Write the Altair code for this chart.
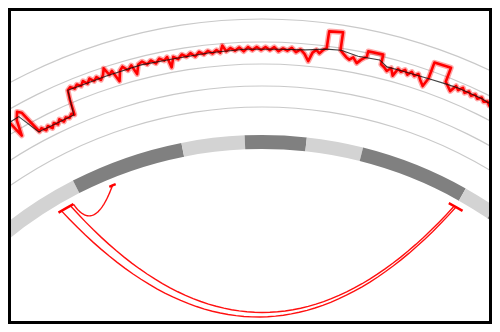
import altair as alt
import pandas as pd

W, H = 484, 316
CX, CY = 254, 542          # circle centre (view pixels)

# ---- ideogram band (degrees, clockwise from 12 o'clock) ----
band_start = [-45.0, -27.1, -11.2, -2.4, 6.2, 14.1, 29.4, 34.2]
band_end = [-27.1, -11.2, -2.4, 6.2, 14.1, 29.4, 34.2, 45.0]
band_shade = ["light", "dark", "light", "dark", "light", "dark", "light", "dark"]
BAND_IN, BAND_OUT = 401, 415

# ---- track grid circles ----
grid_r = [443, 464, 486, 508, 531]

# ---- segmented (black) profile ----
black_theta = [-36, -29.3, -28.1, -23.4, -22.9, -18, -14, -10, -6, -2, 2, 5, 7.3, 9,
               11, 13.5, 14.5, 16, 19.5, 21.5, 23, 26, 28.5, 33]
black_r = [497, 497, 474, 474, 499, 499, 500, 499, 500, 501, 501, 502, 505, 506,
           503, 504, 499, 499, 500, 501, 502, 502, 500, 498]

# ---- raw (red) profile ----
red_theta = [-34.0, -33.5, -33.0, -32.5, -32.0, -31.5, -31.0, -30.6, -30.1, -29.7, -29.2, -28.8,
             -28.4, -28.0, -27.6, -27.2, -26.8, -26.4, -26.0, -25.6, -25.2, -24.8, -24.4, -24.0,
             -23.6, -23.3, -23.1, -22.9, -22.5, -22.1, -21.7, -21.3, -20.9, -20.5, -20.1, -19.7,
             -19.3, -18.9, -18.5, -18.2, -17.8, -17.4, -16.9, -16.5, -16.1, -15.6, -15.1, -14.7,
             -14.3, -13.8, -13.3, -12.8, -12.3, -11.8, -11.3, -10.9, -10.6, -10.2, -9.7, -9.2,
             -8.7, -8.2, -7.7, -7.2, -6.7, -6.2, -5.7, -5.2, -4.8, -4.5, -4.1, -3.6,
             -3.1, -2.6, -2.1, -1.6, -1.1, -0.6, -0.1, 0.4, 0.9, 1.4, 1.9, 2.4,
             2.9, 3.4, 3.9, 4.4, 4.9, 5.4, 5.8, 6.2, 6.6, 7.0, 7.35, 7.38,
             8.9, 8.93, 9.3, 9.7, 10.1, 10.5, 11.0, 11.4, 11.8, 12.0, 12.03, 13.75,
             13.78, 14.2, 14.6, 15.0, 15.4, 15.8, 16.2, 16.6, 17.0, 17.4, 17.8, 18.2,
             18.6, 19.1, 19.45, 19.48, 21.4, 21.43, 21.8, 22.3, 22.7, 23.1, 23.5, 23.9,
             24.3, 24.7, 25.1, 25.5, 25.9, 26.3, 26.7, 27.1, 27.5, 27.9, 28.3, 28.7,
             29.1, 29.5, 30.0, 30.5, 31.0]
red_r = [497, 499, 495, 498, 495, 499, 496, 498, 479, 495, 502, 499,
         486, 474, 476, 472, 475, 471, 475, 472, 476, 472, 475, 473,
         476, 474, 490, 499, 501, 498, 501, 498, 502, 498, 502, 498,
         501, 497, 501, 507, 499, 502, 490, 500, 503, 498, 502, 492,
         501, 503, 499, 502, 498, 502, 499, 502, 491, 501, 498, 502,
         499, 502, 498, 502, 499, 502, 499, 502, 499, 506, 500, 503,
         500, 503, 499, 503, 500, 503, 500, 503, 500, 503, 499, 502,
         500, 503, 499, 502, 498, 491, 500, 503, 500, 504, 506, 523,
         524, 506, 503, 500, 498, 501, 496, 500, 503, 504, 510, 510,
         500, 498, 495, 499, 492, 500, 498, 501, 497, 501, 498, 501,
         496, 491, 500, 517, 518, 503, 500, 496, 503, 500, 504, 500,
         503, 500, 503, 500, 503, 500, 502, 499, 502, 498, 501, 498,
         501, 498, 500, 497, 500]

# ---- links (Bezier curves) ----
link_id = ["ribbon_outer", "ribbon_inner", "short"]
link_t1 = [-30.6, -29.1, -28.6]
link_t2 = [29.5, 29.2, -22.3]
link_ctrl_theta = [-0.55, 0.05, -28.0]
link_ctrl_r = [125, 131, 357]
LINK_R = 394

# ---- link end brackets ----
bracket_start = [-31.1, 28.3, -22.8]
bracket_end = [-28.6, 30.6, -21.8]

# ================= build =================
xenc = alt.X("px:Q", scale=alt.Scale(domain=[0, W], nice=False, zero=False), axis=None)
yenc = alt.Y("py:Q", scale=alt.Scale(domain=[H, 0], nice=False, zero=False), axis=None)


def arcs(df, **mark):
    return alt.Chart(df).mark_arc(clip=True, **mark).transform_calculate(
        a0="datum.t0 * PI / 180", a1="datum.t1 * PI / 180"
    ).encode(
        x=alt.value(CX), y=alt.value(CY),
        theta=alt.Theta("a0:Q", scale=None, stack=False),
        theta2=alt.Theta2("a1:Q"),
        radius=alt.Radius("r0:Q", scale=None),
        radius2=alt.Radius2("r1:Q"),
    )


grid_df = pd.DataFrame({"t0": [-70] * len(grid_r), "t1": [70] * len(grid_r),
                        "r0": [r - 0.6 for r in grid_r], "r1": [r + 0.6 for r in grid_r]})
grid = arcs(grid_df, color="#c9c9c9")

band_df = pd.DataFrame({"t0": band_start, "t1": band_end, "shade": band_shade,
                        "r0": BAND_IN, "r1": BAND_OUT})
band = arcs(band_df).encode(
    color=alt.Color("shade:N", scale=alt.Scale(domain=["light", "dark"], range=["#d3d3d3", "#808080"]),
                    legend=None))


def polar_line(theta, r, **mark):
    df = pd.DataFrame({"th": theta, "r": r, "i": range(len(theta))})
    return alt.Chart(df).mark_line(clip=True, **mark).transform_calculate(
        px=f"{CX} + datum.r * sin(datum.th * PI / 180)",
        py=f"{CY} - datum.r * cos(datum.th * PI / 180)",
    ).encode(x=xenc, y=yenc, order="i:Q")


red_halo = polar_line(red_theta, red_r, color="#ff0000", strokeWidth=5.5, opacity=0.35,
                      strokeJoin="round")
red = polar_line(red_theta, red_r, color="#ff0000", strokeWidth=2.6, strokeJoin="round")
black = polar_line(black_theta, black_r, color="#111111", strokeWidth=1.1, opacity=0.8)

rows = []
for k in range(len(link_id)):
    for j in range(51):
        rows.append({"id": link_id[k], "t": j / 50, "t1": link_t1[k], "t2": link_t2[k],
                     "ct": link_ctrl_theta[k], "cr": link_ctrl_r[k]})
links = alt.Chart(pd.DataFrame(rows)).mark_line(clip=True, color="#ff1010", strokeWidth=1.4).transform_calculate(
    u="1 - datum.t",
    a="datum.t1 * PI / 180",
    b="datum.t2 * PI / 180",
    c="datum.ct * PI / 180",
    px=(f"datum.u*datum.u*({CX} + {LINK_R}*sin(datum.a)) + 2*datum.u*datum.t*({CX} + datum.cr*sin(datum.c))"
        f" + datum.t*datum.t*({CX} + {LINK_R}*sin(datum.b))"),
    py=(f"datum.u*datum.u*({CY} - {LINK_R}*cos(datum.a)) + 2*datum.u*datum.t*({CY} - datum.cr*cos(datum.c))"
        f" + datum.t*datum.t*({CY} - {LINK_R}*cos(datum.b))"),
).encode(x=xenc, y=yenc, detail="id:N", order="t:Q")

br_df = pd.DataFrame({"t0": bracket_start, "t1": bracket_end, "r0": LINK_R - 1.2, "r1": LINK_R + 1.2})
brackets = arcs(br_df, color="#ff0000")

frame = alt.Chart(pd.DataFrame({"a": [0]})).mark_rect(fillOpacity=0, stroke="black", strokeWidth=3).encode(
    x=alt.value(1.5), x2=alt.value(W - 1.5), y=alt.value(1.5), y2=alt.value(H - 1.5))

chart = alt.layer(grid, band, red_halo, red, black, links, brackets, frame).properties(
    width=W, height=H, padding=0
).configure_view(strokeWidth=0)

chart.save("out.html", embed_options={"renderer": "svg", "actions": False})
